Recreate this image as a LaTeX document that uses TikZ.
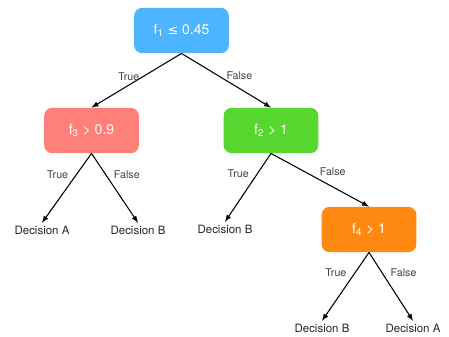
\documentclass[tikz,border=0pt]{standalone}
\usepackage{fontspec}
\setmainfont{TeX Gyre Heros}
\newfontfamily\symfont{DejaVu Sans}
\usetikzlibrary{arrows,positioning}

\definecolor{rootblue}{RGB}{77,180,255}
\definecolor{testred}{RGB}{255,128,122}
\definecolor{testgreen}{RGB}{86,214,46}
\definecolor{testorange}{RGB}{255,136,17}

\begin{document}
\begin{tikzpicture}[x=0.75pt,y=-0.75pt,
		test/.style={rectangle, rounded corners=6pt, minimum width=71pt, minimum height=34pt,
			text=white, font=\fontsize{10.5}{12}\selectfont},
		leaf/.style={font=\fontsize{8.6}{10}\selectfont, text=black!85, inner sep=2pt},
		lbl/.style={font=\fontsize{8}{9}\selectfont, text=black!75, inner sep=1pt}]
	\useasboundingbox (0,0) rectangle (449,336);
	\node[test, fill=rootblue] (f1) at (181.5,30.5) {f\textsubscript{1} {\symfont\fontsize{9.5}{12}\selectfont ≤} 0.45};
	\node[test, fill=testred] (f3) at (91.5,130.5) {f\textsubscript{3} > 0.9};
	\node[test, fill=testgreen] (f2) at (271,130.5) {f\textsubscript{2} > 1};
	\node[test, fill=testorange] (f4) at (369,229.5) {f\textsubscript{4} > 1};
	\node[leaf] (a1) at (42,230) {Decision A};
	\node[leaf] (b1) at (138,230) {Decision B};
	\node[leaf] (b2) at (225,229) {Decision B};
	\node[leaf] (b3) at (322,328) {Decision B};
	\node[leaf] (a2) at (413,328) {Decision A};
	\path[-latex, line width=0.8pt]
	(f1.south) edge node[lbl, pos=0.5, above left={-1.2pt and -3.5pt}] {True} (f3.north)
	           edge node[lbl, pos=0.5, above right={-0.5pt and -1.2pt}] {False} (f2.north)
	(f3.south) edge node[lbl, pos=0.3, left=5pt] {True} (a1.north)
	           edge node[lbl, pos=0.3, right=5pt] {False} (b1.north)
	(f2.south) edge node[lbl, pos=0.3, left=5pt] {True} (b2.north)
	           edge node[lbl, pos=0.47, above right=1pt] {False} (f4.north)
	(f4.south) edge node[lbl, pos=0.3, left=5pt] {True} (b3.north)
	           edge node[lbl, pos=0.3, right=5pt] {False} (a2.north);
\end{tikzpicture}
\end{document}
